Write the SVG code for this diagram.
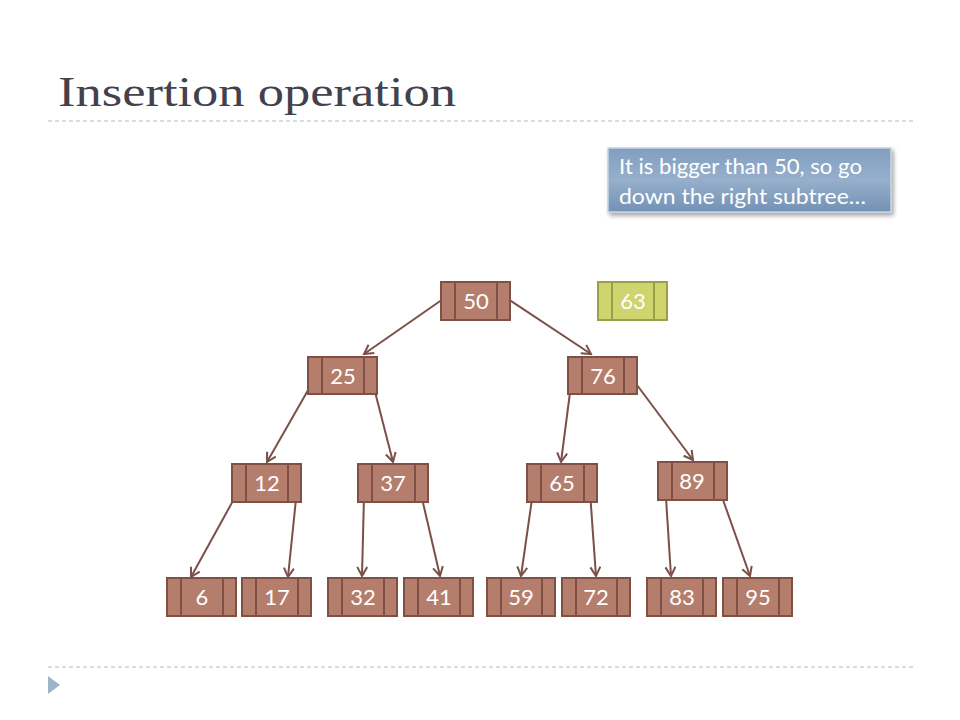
<svg xmlns="http://www.w3.org/2000/svg" width="960" height="720" viewBox="0 0 960 720">
<defs>
<style>
.node rect.b{fill:#b57e6c;stroke:#7e5046;stroke-width:2}
.node line{stroke:#7e5046;stroke-width:2}
.node text{font-family:Lato,"Open Sans",sans-serif;font-size:22px;fill:#ffffff;text-anchor:middle}
.new rect.b{fill:#cfd46f;stroke:#9aa048;stroke-width:2}
.new line{stroke:#9aa048;stroke-width:2}
.conn line{stroke:#7a5048;stroke-width:2;marker-end:url(#ah)}
.dash{stroke:#a7bccf;stroke-width:1;stroke-dasharray:4 3}
</style>
<marker id="ah" markerWidth="12" markerHeight="12" refX="10" refY="6" orient="auto" markerUnits="userSpaceOnUse">
<path d="M1,1 L10,6 L1,11" fill="none" stroke="#7a5048" stroke-width="2"/>
</marker>
<linearGradient id="cg" x1="0" y1="0" x2="0" y2="1">
<stop offset="0" stop-color="#819fc1"/>
<stop offset="0.5" stop-color="#96afcb"/>
<stop offset="1" stop-color="#7391b5"/>
</linearGradient>
<filter id="sh" x="-10%" y="-20%" width="125%" height="150%">
<feDropShadow dx="2" dy="3" stdDeviation="2" flood-color="#000" flood-opacity="0.35"/>
</filter>
</defs>
<rect width="960" height="720" fill="#ffffff"/>
<text x="58" y="106" font-family="'Liberation Serif',serif" font-size="42" fill="#43414b" textLength="398" lengthAdjust="spacingAndGlyphs">Insertion operation</text>
<line class="dash" x1="48" y1="121" x2="913" y2="121"/>
<line class="dash" x1="48" y1="667" x2="913" y2="667"/>
<polygon points="48,676 60,685 48,694" fill="#9db3ca"/>
<g id="callout">
<rect x="608" y="148" width="283" height="64" fill="url(#cg)" stroke="#c6d4e3" stroke-width="1.5" filter="url(#sh)"/>
<text font-family="Lato,'Open Sans',sans-serif" font-size="21" fill="#ffffff"><tspan x="619" y="174" textLength="243" lengthAdjust="spacingAndGlyphs">It is bigger than 50, so go</tspan><tspan x="619" y="204" textLength="247" lengthAdjust="spacingAndGlyphs">down the right subtree…</tspan></text>
</g>
<g id="connectors" class="conn">
<line x1="446" y1="297" x2="364" y2="354"/>
<line x1="505" y1="297" x2="591" y2="354"/>
<line x1="311" y1="385" x2="267" y2="462"/>
<line x1="373" y1="384" x2="393" y2="462"/>
<line x1="572" y1="377" x2="561" y2="462"/>
<line x1="631" y1="377" x2="693" y2="460"/>
<line x1="234" y1="499" x2="191" y2="577"/>
<line x1="296" y1="499" x2="288" y2="577"/>
<line x1="364" y1="496" x2="362" y2="576"/>
<line x1="421" y1="494" x2="440" y2="576"/>
<line x1="533" y1="492" x2="521" y2="576"/>
<line x1="590" y1="492" x2="596" y2="576"/>
<line x1="666" y1="498" x2="671" y2="576"/>
<line x1="722" y1="497" x2="750" y2="576"/>
</g>
<g id="n50" class="node"><rect class="b" x="441" y="282" width="69" height="38"/><line x1="455" y1="282" x2="455" y2="320"/><line x1="497" y1="282" x2="497" y2="320"/><text x="476" y="309">50</text></g>
<g id="n63" class="node new"><rect class="b" x="598" y="282" width="69" height="38"/><line x1="612" y1="282" x2="612" y2="320"/><line x1="654" y1="282" x2="654" y2="320"/><text x="633" y="309">63</text></g>
<g id="n25" class="node"><rect class="b" x="308" y="357" width="69" height="37"/><line x1="322" y1="357" x2="322" y2="394"/><line x1="364" y1="357" x2="364" y2="394"/><text x="343" y="384">25</text></g>
<g id="n76" class="node"><rect class="b" x="568" y="357" width="69" height="37"/><line x1="582" y1="357" x2="582" y2="394"/><line x1="624" y1="357" x2="624" y2="394"/><text x="603" y="384">76</text></g>
<g id="n12" class="node"><rect class="b" x="232" y="464" width="69" height="38"/><line x1="246" y1="464" x2="246" y2="502"/><line x1="288" y1="464" x2="288" y2="502"/><text x="267" y="491">12</text></g>
<g id="n37" class="node"><rect class="b" x="358" y="464" width="70" height="38"/><line x1="372" y1="464" x2="372" y2="502"/><line x1="415" y1="464" x2="415" y2="502"/><text x="393" y="491">37</text></g>
<g id="n65" class="node"><rect class="b" x="527" y="464" width="70" height="38"/><line x1="541" y1="464" x2="541" y2="502"/><line x1="584" y1="464" x2="584" y2="502"/><text x="562" y="491">65</text></g>
<g id="n89" class="node"><rect class="b" x="658" y="462" width="69" height="38"/><line x1="672" y1="462" x2="672" y2="500"/><line x1="714" y1="462" x2="714" y2="500"/><text x="692" y="489">89</text></g>
<g id="n6" class="node"><rect class="b" x="167" y="578" width="69" height="38"/><line x1="181" y1="578" x2="181" y2="616"/><line x1="223" y1="578" x2="223" y2="616"/><text x="202" y="605">6</text></g>
<g id="n17" class="node"><rect class="b" x="242" y="578" width="69" height="38"/><line x1="256" y1="578" x2="256" y2="616"/><line x1="298" y1="578" x2="298" y2="616"/><text x="277" y="605">17</text></g>
<g id="n32" class="node"><rect class="b" x="328" y="578" width="69" height="38"/><line x1="342" y1="578" x2="342" y2="616"/><line x1="384" y1="578" x2="384" y2="616"/><text x="363" y="605">32</text></g>
<g id="n41" class="node"><rect class="b" x="404" y="578" width="69" height="38"/><line x1="418" y1="578" x2="418" y2="616"/><line x1="460" y1="578" x2="460" y2="616"/><text x="439" y="605">41</text></g>
<g id="n59" class="node"><rect class="b" x="487" y="578" width="68" height="38"/><line x1="501" y1="578" x2="501" y2="616"/><line x1="542" y1="578" x2="542" y2="616"/><text x="521" y="605">59</text></g>
<g id="n72" class="node"><rect class="b" x="562" y="578" width="68" height="38"/><line x1="576" y1="578" x2="576" y2="616"/><line x1="617" y1="578" x2="617" y2="616"/><text x="596" y="605">72</text></g>
<g id="n83" class="node"><rect class="b" x="647" y="578" width="69" height="38"/><line x1="661" y1="578" x2="661" y2="616"/><line x1="703" y1="578" x2="703" y2="616"/><text x="682" y="605">83</text></g>
<g id="n95" class="node"><rect class="b" x="723" y="578" width="69" height="38"/><line x1="737" y1="578" x2="737" y2="616"/><line x1="779" y1="578" x2="779" y2="616"/><text x="758" y="605">95</text></g>
</svg>
